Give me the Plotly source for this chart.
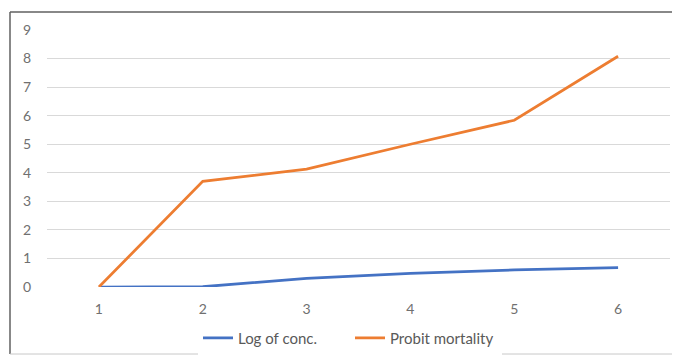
import plotly.graph_objects as go

categories = [1, 2, 3, 4, 5, 6]
log_conc = [0.0, 0.01, 0.3, 0.48, 0.6, 0.68]
probit_mortality = [0.0, 3.7, 4.13, 5.0, 5.84, 8.08]
y_ticks = [0, 1, 2, 3, 4, 5, 6, 7, 8, 9]

# page body has an 8px margin; work in screen pixels and shift
OFF = 8
W, H = 680 - OFF, 356 - OFF
L, R, T, B = 47 - OFF, 10, 30 - OFF, 356 - 287
pw = W - L - R
ph = H - T - B

def px(x):
    return (x - OFF - L) / pw

def py(y):
    return (H - B - (y - OFF)) / ph

fig = go.Figure()
fig.add_trace(go.Scatter(x=categories, y=log_conc, mode="lines", name="Log of conc.",
                         line=dict(color="#4472C4", width=2.75)))
fig.add_trace(go.Scatter(x=categories, y=probit_mortality, mode="lines", name="Probit mortality",
                         line=dict(color="#ED7D31", width=2.75)))

border = dict(color="#606060", width=1.5)
fig.update_layout(
    width=W, height=H,
    margin=dict(l=L, r=R, t=T, b=B, autoexpand=False),
    paper_bgcolor="white", plot_bgcolor="white",
    font=dict(family="Lato, Open Sans, sans-serif", size=13, color="#595959"),
    showlegend=True,
    legend=dict(orientation="h", x=px(198), xanchor="left", y=py(338), yanchor="middle",
                font=dict(size=15, color="#595959"), itemwidth=30, entrywidth=107),
    shapes=[
        dict(type="line", xref="paper", yref="paper", x0=px(10), x1=px(690), y0=py(12), y1=py(12), line=border),
        dict(type="line", xref="paper", yref="paper", x0=px(10), x1=px(10), y0=py(12), y1=py(354), line=border),
        dict(type="line", xref="paper", yref="paper", x0=px(10), x1=px(690), y0=py(354), y1=py(354),
             line=dict(color="#C8C8C8", width=1)),
    ],
)
fig.update_xaxes(range=[0.5, 6.5], tickvals=categories, ticktext=[str(c) for c in categories],
                 showgrid=False, zeroline=False, showline=False, ticks="", ticklabelstandoff=12,
                 tickfont=dict(size=14, color="#707070"))
fig.update_yaxes(range=[0, 9], tickvals=y_ticks, showgrid=True, gridcolor="#D9D9D9", gridwidth=1,
                 zeroline=False, showline=False, ticks="", ticklabelstandoff=15,
                 tickfont=dict(size=14, color="#707070"))

fig.write_html("out.html")
